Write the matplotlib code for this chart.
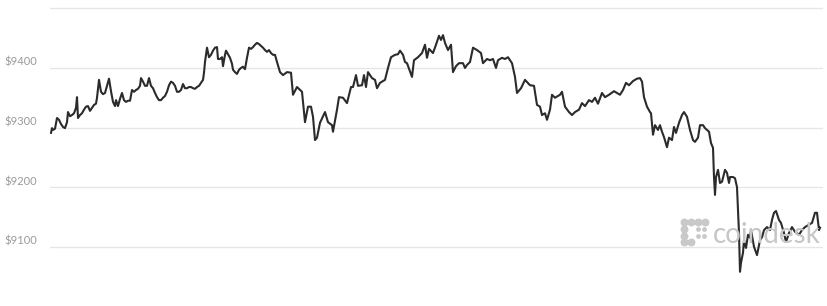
import matplotlib
matplotlib.use("Agg")
import matplotlib.pyplot as plt

# sample index along the day (one step per reading) and BTC/USD price
steps = [0, 1, 2, 4, 6, 8, 10, 12, 14, 16, 17, 19, 21, 23, 25, 26, 27, 29, 31, 33,
         35, 37, 39, 41, 43, 45, 46, 48, 50, 52, 54, 56, 58, 60, 62, 64, 65, 67, 69, 71,
         73, 75, 77, 79, 81, 83, 85, 87, 89, 90, 92, 94, 96, 98, 100, 102, 104, 106, 108, 110,
         112, 114, 116, 118, 120, 122, 124, 126, 128, 130, 132, 134, 136, 138, 140, 142, 144, 146, 148, 150,
         152, 153, 154, 156, 158, 160, 162, 164, 166, 167, 169, 171, 172, 174, 175, 177, 179, 181, 182, 184,
         186, 188, 190, 192, 194, 196, 198, 200, 202, 204, 206, 208, 210, 212, 214, 216, 218, 220, 222, 224,
         226, 229, 232, 236, 240, 242, 246, 251, 254, 257, 260, 262, 264, 266, 269, 274, 277, 281, 282, 286,
         288, 292, 296, 300, 302, 305, 307, 311, 313, 315, 317, 321, 324, 326, 329, 334, 337, 340, 344, 347,
         349, 352, 354, 356, 361, 363, 367, 371, 374, 376, 378, 382, 385, 388, 390, 392, 394, 397, 400, 402,
         405, 408, 412, 414, 416, 419, 422, 426, 430, 432, 436, 439, 442, 445, 447, 451, 454, 457, 461, 464,
         466, 470, 474, 479, 483, 486, 489, 491, 494, 496, 499, 501, 504, 509, 511, 514, 518, 521, 524, 528,
         531, 534, 538, 541, 544, 547, 551, 554, 558, 563, 566, 569, 572, 575, 578, 582, 586, 589, 591, 593,
         596, 599, 600, 602, 604, 607, 609, 611, 613, 616, 618, 621, 623, 625, 628, 631, 633, 636, 639, 642,
         644, 647, 649, 652, 654, 658, 660, 662, 663, 664, 665, 667, 669, 671, 674, 676, 678, 679, 682, 684,
         686, 688, 689, 690, 692, 693, 695, 697, 699, 700, 703, 706, 709, 711, 713, 716, 719, 721, 723, 725,
         728, 730, 733, 735, 738, 741, 744, 748, 751, 754, 758, 761, 764, 766, 768, 769]
price = [9291, 9299, 9296, 9298, 9316, 9313, 9306, 9301, 9299, 9309, 9326, 9319, 9321, 9324, 9333, 9351, 9316, 9321, 9324, 9330,
         9335, 9336, 9328, 9333, 9338, 9340, 9350, 9380, 9360, 9356, 9358, 9370, 9382, 9361, 9343, 9336, 9346, 9336, 9348, 9358,
         9346, 9343, 9345, 9345, 9363, 9360, 9363, 9365, 9370, 9383, 9377, 9370, 9370, 9383, 9370, 9366, 9358, 9351, 9346, 9346,
         9350, 9353, 9360, 9371, 9377, 9375, 9370, 9360, 9360, 9363, 9373, 9366, 9366, 9368, 9368, 9366, 9365, 9368, 9370, 9375,
         9380, 9392, 9410, 9434, 9418, 9422, 9429, 9434, 9435, 9415, 9415, 9418, 9403, 9422, 9429, 9423, 9417, 9407, 9397, 9393,
         9390, 9397, 9400, 9402, 9398, 9417, 9434, 9432, 9435, 9439, 9442, 9440, 9437, 9434, 9430, 9427, 9430, 9425, 9422, 9422,
         9410, 9393, 9388, 9393, 9392, 9355, 9368, 9360, 9309, 9335, 9335, 9318, 9279, 9283, 9308, 9326, 9309, 9304, 9293, 9330,
         9351, 9350, 9341, 9368, 9368, 9388, 9370, 9371, 9388, 9368, 9393, 9383, 9380, 9366, 9375, 9380, 9400, 9418, 9422, 9423,
         9429, 9422, 9410, 9408, 9385, 9413, 9418, 9425, 9439, 9417, 9432, 9425, 9439, 9454, 9447, 9455, 9442, 9430, 9439, 9393,
         9403, 9408, 9408, 9400, 9405, 9410, 9434, 9430, 9425, 9408, 9415, 9413, 9415, 9400, 9413, 9417, 9415, 9418, 9408, 9385,
         9358, 9366, 9380, 9371, 9370, 9338, 9335, 9321, 9324, 9313, 9330, 9355, 9350, 9355, 9360, 9335, 9326, 9321, 9326, 9330,
         9341, 9336, 9346, 9343, 9350, 9340, 9358, 9351, 9355, 9361, 9358, 9355, 9363, 9375, 9371, 9378, 9382, 9383, 9377, 9351,
         9335, 9326, 9324, 9288, 9304, 9296, 9304, 9293, 9284, 9267, 9283, 9279, 9301, 9291, 9308, 9321, 9326, 9318, 9296, 9279,
         9276, 9283, 9304, 9304, 9299, 9293, 9274, 9266, 9217, 9187, 9217, 9229, 9207, 9209, 9229, 9224, 9207, 9217, 9217, 9215,
         9200, 9123, 9058, 9073, 9090, 9111, 9098, 9120, 9115, 9128, 9100, 9086, 9111, 9116, 9128, 9133, 9128, 9145, 9157, 9160,
         9145, 9140, 9123, 9108, 9123, 9133, 9125, 9120, 9128, 9133, 9137, 9140, 9157, 9157, 9128, 9132]
grid_levels = [9100, 9200, 9300, 9400, 9500]
label_levels = [9100, 9200, 9300, 9400]
labels = ["$9100", "$9200", "$9300", "$9400"]

W, H = 827, 306
fig = plt.figure(figsize=(W / 100, H / 100), dpi=100)
ax = fig.add_axes([50 / W, 0, 773 / W, 1])

# watermark sits under the price line
for x, y, s in [(684, 222, 22), (691, 222, 22), (698, 222, 22), (705, 222, 22),
                (684, 229, 22), (684, 236, 22), (684, 242, 22), (691, 242, 22),
                (698, 229, 6), (704, 229, 6), (698, 236, 6), (704, 236, 6)]:
    fig.add_artist(plt.Line2D([x / W], [1 - y / H], marker="o", markersize=s ** 0.5,
                              color="#c9c9c9", linestyle="none", zorder=0))
fig.add_artist(plt.Line2D([684 / W, 705 / W], [1 - 222 / H] * 2, color="#c9c9c9", lw=3.5, zorder=0))
fig.add_artist(plt.Line2D([684 / W, 684 / W], [1 - 222 / H, 1 - 242 / H], color="#c9c9c9", lw=3.5, zorder=0))
fig.add_artist(plt.Line2D([684 / W, 691 / W], [1 - 242 / H] * 2, color="#c9c9c9", lw=3.5, zorder=0))
fig.text(713 / W, 1 - 243 / H, "coindesk", fontsize=20, family="Lato", color="#c6c6c6",
         ha="left", va="baseline", zorder=0)

ax.set_facecolor("none")
ax.plot(steps, price, color="#2b2b2b", lw=1.5, zorder=3)

for v in grid_levels:
    ax.axhline(v, color="#e6e6e6", lw=1, zorder=1)
for v, lab in zip(label_levels, labels):
    ax.annotate(lab, xy=(0, v), xycoords=("axes fraction", "data"),
                xytext=(-9.5, 4), textcoords="offset points",
                ha="right", va="center", fontsize=8, family="Lato", color="#9a9a9a")

ax.set_xlim(-1, 772)
ax.set_ylim(9000.6, 9514)
ax.axis("off")

fig.savefig("out.png", dpi=100)
